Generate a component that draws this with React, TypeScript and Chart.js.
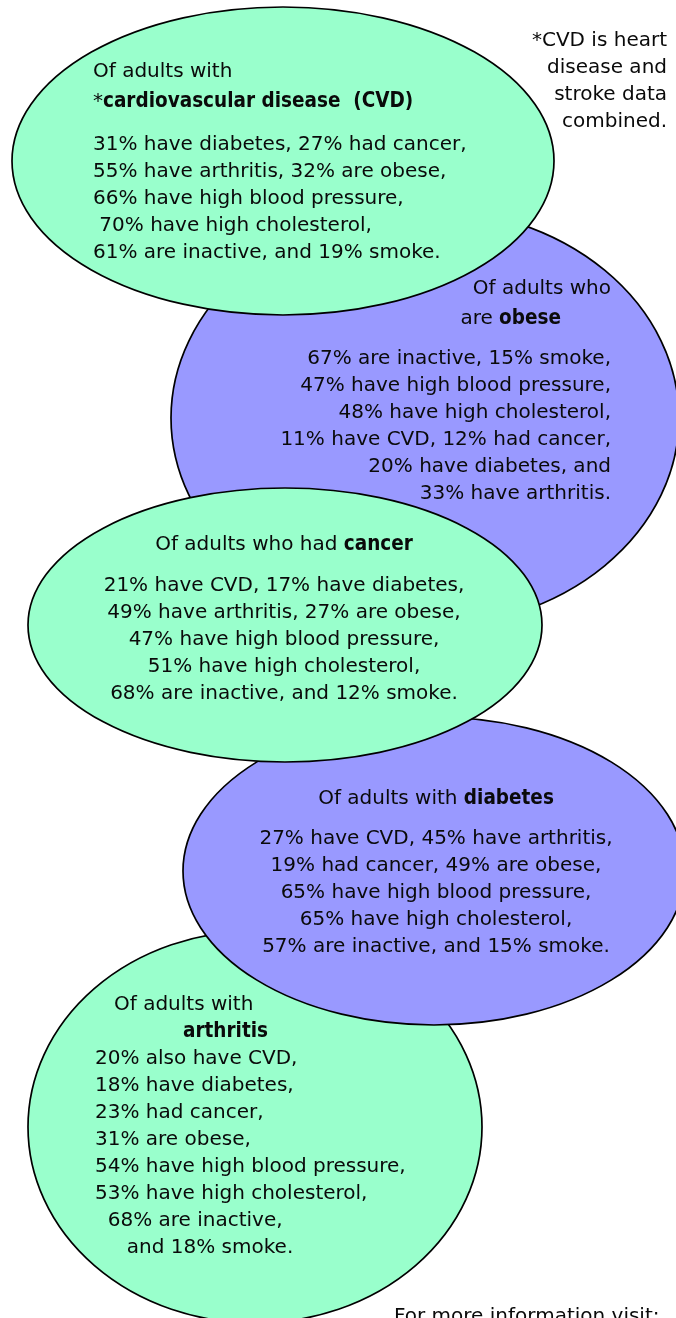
import React, { useEffect, useRef } from "react";
import { Chart, registerables } from "chart.js";

Chart.register(...registerables);

// ---------------- data ----------------
const footnoteLines = ["*CVD is heart", "disease and", "stroke data", "combined."];

const cvdHeader: [string, boolean][][] = [
  [["Of adults with", false]],
  [["*", false], ["cardiovascular disease  (CVD)", true]],
];
const cvdLines = [
  "31% have diabetes, 27% had cancer,",
  "55% have arthritis, 32% are obese,",
  "66% have high blood pressure,",
  " 70% have high cholesterol,",
  "61% are inactive, and 19% smoke.",
];

const obeseHeader: [string, boolean][][] = [
  [["Of adults who", false]],
  [["are ", false], ["obese", true]],
];
const obeseLines = [
  "67% are inactive, 15% smoke,",
  "47% have high blood pressure,",
  "48% have high cholesterol,",
  "11% have CVD, 12% had cancer,",
  "20% have diabetes, and",
  "33% have arthritis.",
];

const cancerHeader: [string, boolean][][] = [
  [["Of adults who had ", false], ["cancer", true]],
];
const cancerLines = [
  "21% have CVD, 17% have diabetes,",
  "49% have arthritis, 27% are obese,",
  "47% have high blood pressure,",
  "51% have high cholesterol,",
  "68% are inactive, and 12% smoke.",
];

const diabetesHeader: [string, boolean][][] = [
  [["Of adults with ", false], ["diabetes", true]],
];
const diabetesLines = [
  "27% have CVD, 45% have arthritis,",
  "19% had cancer, 49% are obese,",
  "65% have high blood pressure,",
  "65% have high cholesterol,",
  "57% are inactive, and 15% smoke.",
];

const arthritisHeader: [string, boolean][][] = [
  [["Of adults with", false]],
  [["arthritis", true]],
];
const arthritisLines = [
  "20% also have CVD,",
  "18% have diabetes,",
  "23% had cancer,",
  "31% are obese,",
  "54% have high blood pressure,",
  "53% have high cholesterol,",
  "  68% are inactive,",
  "     and 18% smoke.",
];

const moreInfo = "For more information visit:";

// ---------------- layout (data units of the x/y scales) ----------------
const W = 676;
const H = 1318;
const GREEN = "#99FFCC";
const PURPLE = "#9999FF";
const FONT = "'DejaVu Sans', 'Open Sans', sans-serif";
const BOLD_FONT = "'DejaVu Sans Condensed', 'DejaVu Sans', sans-serif";
const SIZE = 20;
const BOLD_SIZE = 20.5;
const STEP = 27;
const TEXT_DY = 2;

type Bubble = {
  cx: number; cy: number; rx: number; ry: number; fill: string;
  align: "left" | "right" | "center"; ax: number;
  header: [string, boolean][][]; headerY: number[]; headerDx: number[];
  lines: string[]; bodyY: number;
};

const bubbles: Record<string, Bubble> = {
  obese: { cx: 425, cy: 418, rx: 254, ry: 209, fill: PURPLE, align: "right", ax: 611,
    header: obeseHeader, headerY: [287, 317], headerDx: [0, -50], lines: obeseLines, bodyY: 357 },
  arthritis: { cx: 255, cy: 1127, rx: 227, ry: 196, fill: GREEN, align: "left", ax: 95,
    header: arthritisHeader, headerY: [1003, 1030], headerDx: [19, 88], lines: arthritisLines, bodyY: 1057 },
  diabetes: { cx: 434, cy: 871, rx: 251, ry: 154, fill: PURPLE, align: "center", ax: 436,
    header: diabetesHeader, headerY: [797], headerDx: [0], lines: diabetesLines, bodyY: 837 },
  cvd: { cx: 283, cy: 161, rx: 271, ry: 154, fill: GREEN, align: "left", ax: 93,
    header: cvdHeader, headerY: [70, 100], headerDx: [0, 0], lines: cvdLines, bodyY: 143 },
  cancer: { cx: 285, cy: 625, rx: 257, ry: 137, fill: GREEN, align: "center", ax: 284,
    header: cancerHeader, headerY: [543], headerDx: [0], lines: cancerLines, bodyY: 584 },
};
const drawOrder = ["obese", "arthritis", "diabetes", "cvd", "cancer"];

function fontFor(b: boolean) {
  return b ? "bold " + BOLD_SIZE + "px " + BOLD_FONT : SIZE + "px " + FONT;
}

function drawRuns(ctx: CanvasRenderingContext2D, runs: [string, boolean][], x: number, y: number, align: string) {
  const widths = runs.map(([t, b]) => {
    ctx.font = fontFor(b);
    return ctx.measureText(t).width;
  });
  const total = widths.reduce((a, c) => a + c, 0);
  let start = x;
  if (align === "right") start = x - total;
  else if (align === "center") start = x - total / 2;
  ctx.textAlign = "left";
  runs.forEach(([t, b], i) => {
    ctx.font = fontFor(b);
    ctx.fillText(t, start, y);
    start += widths[i];
  });
}

const infographicPlugin = {
  id: "infographic",
  beforeDatasetsDraw(chart: any) {
    const { ctx } = chart;
    const xs = chart.scales.x;
    const ys = chart.scales.y;
    const px = (v: number) => xs.getPixelForValue(v);
    const py = (v: number) => ys.getPixelForValue(v);
    ctx.save();
    ctx.fillStyle = "#ffffff";
    ctx.fillRect(0, 0, chart.width, chart.height);
    for (const key of drawOrder) {
      const b = bubbles[key];
      const cx = px(b.cx);
      const cy = py(b.cy);
      const rx = Math.abs(px(b.cx + b.rx) - cx);
      const ry = Math.abs(py(b.cy + b.ry) - cy);
      ctx.beginPath();
      ctx.ellipse(cx, cy, rx, ry, 0, 0, Math.PI * 2);
      ctx.fillStyle = b.fill;
      ctx.fill();
      ctx.lineWidth = 1.7;
      ctx.strokeStyle = "#000000";
      ctx.stroke();
    }
    ctx.fillStyle = "#0a0a0a";
    ctx.textBaseline = "middle";
    for (const key of drawOrder) {
      const b = bubbles[key];
      b.header.forEach((runs, i) => {
        drawRuns(ctx, runs, px(b.ax + b.headerDx[i]), py(b.headerY[i] + TEXT_DY), b.align);
      });
      b.lines.forEach((line, i) => {
        drawRuns(ctx, [[line, false]], px(b.ax), py(b.bodyY + i * STEP + TEXT_DY), b.align);
      });
    }
    footnoteLines.forEach((line, i) => {
      drawRuns(ctx, [[line, false]], px(667), py(39 + i * STEP + TEXT_DY), "right");
    });
    drawRuns(ctx, [[moreInfo, false]], px(394), py(1315 + TEXT_DY), "left");
    ctx.restore();
  },
};

export default function App() {
  const ref = useRef<HTMLCanvasElement | null>(null);
  useEffect(() => {
    document.body.style.margin = "0";
    const canvas = ref.current;
    if (!canvas) return;
    const chart = new Chart(canvas, {
      type: "scatter",
      data: {
        datasets: [
          {
            data: drawOrder.map((k) => ({ x: bubbles[k].cx, y: bubbles[k].cy })),
            pointRadius: 0,
            showLine: false,
          },
        ],
      },
      options: {
        animation: false,
        responsive: false,
        maintainAspectRatio: false,
        devicePixelRatio: 1,
        layout: { padding: 0 },
        events: [],
        plugins: { legend: { display: false }, tooltip: { enabled: false } },
        scales: {
          x: { type: "linear", min: 0, max: W, display: false },
          y: { type: "linear", min: 0, max: H, reverse: true, display: false },
        },
      },
      plugins: [infographicPlugin],
    });
    return () => chart.destroy();
  }, []);
  return (
    <div style={{ width: W, height: H, overflow: "hidden" }}>
      <canvas ref={ref} width={W} height={H} style={{ display: "block", width: W, height: H }} />
    </div>
  );
}
